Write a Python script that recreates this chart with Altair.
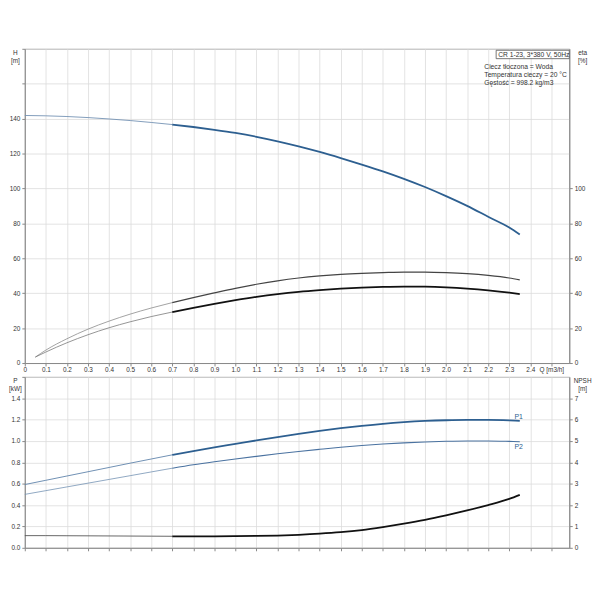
import altair as alt
import pandas as pd

# ---------------- data ----------------
Q_H = [0.0, 0.1, 0.2, 0.3, 0.4, 0.5, 0.6, 0.7, 0.8, 0.9, 1.0, 1.1, 1.2,
       1.3, 1.4, 1.5, 1.6, 1.7, 1.8, 1.9, 2.0, 2.1, 2.2, 2.3, 2.35]
H = [141.8, 141.6, 141.2, 140.6, 139.8, 138.9, 137.8, 136.6, 135.2, 133.6,
     131.8, 129.6, 127.0, 124.1, 120.9, 117.4, 113.7, 109.8, 105.5, 100.8,
     95.6, 90.0, 83.8, 77.6, 73.6]

Q_ETA = [0.05, 0.1, 0.2, 0.3, 0.4, 0.5, 0.6, 0.7, 0.8, 0.9, 1.0, 1.1, 1.2,
         1.3, 1.4, 1.5, 1.6, 1.7, 1.8, 1.9, 2.0, 2.1, 2.2, 2.3, 2.35]
ETA_PUMP = [3.4, 7.4, 13.9, 19.4, 24.0, 28.0, 31.5, 34.6, 37.5, 40.2, 42.8,
            45.1, 47.1, 48.7, 49.9, 50.8, 51.4, 51.8, 52.1, 52.1, 51.8,
            51.2, 50.2, 48.7, 47.6]
ETA_TOTAL = [3.4, 6.3, 11.6, 16.2, 20.2, 23.6, 26.6, 29.2, 31.6, 33.9, 36.0,
             37.9, 39.5, 40.8, 41.8, 42.6, 43.2, 43.6, 43.8, 43.7, 43.3,
             42.6, 41.6, 40.3, 39.5]

Q_P = Q_H
P1 = [0.592, 0.632, 0.672, 0.712, 0.752, 0.792, 0.831, 0.870, 0.906, 0.940,
      0.972, 1.005, 1.037, 1.067, 1.095, 1.120, 1.142, 1.161, 1.176, 1.187,
      1.194, 1.197, 1.197, 1.193, 1.189]
P2 = [0.500, 0.535, 0.570, 0.605, 0.640, 0.675, 0.710, 0.745, 0.777, 0.805,
      0.831, 0.856, 0.880, 0.902, 0.922, 0.941, 0.957, 0.971, 0.982, 0.991,
      0.997, 1.000, 1.000, 0.996, 0.993]
NPSH = [0.57, 0.57, 0.565, 0.56, 0.555, 0.55, 0.545, 0.54, 0.54, 0.54, 0.545,
        0.555, 0.575, 0.61, 0.66, 0.73, 0.83, 0.97, 1.13, 1.31, 1.52, 1.75,
        2.00, 2.29, 2.48]

P_LABELS = ["P1", "P2"]
P_LABEL_Q = [2.345, 2.345]
P_LABEL_P = [1.225, 0.94]

X_TICKS = [0.0, 0.1, 0.2, 0.3, 0.4, 0.5, 0.6, 0.7, 0.8, 0.9, 1.0, 1.1, 1.2,
           1.3, 1.4, 1.5, 1.6, 1.7, 1.8, 1.9, 2.0, 2.1, 2.2, 2.3, 2.4, 2.5]
H_TICKS = [0, 20, 40, 60, 80, 100, 120, 140, 160, 180]
ETA_TICKS = [0, 20, 40, 60, 80, 100]
P_TICKS = [0.0, 0.2, 0.4, 0.6, 0.8, 1.0, 1.2, 1.4, 1.6]
NPSH_TICKS = [0, 1, 2, 3, 4, 5, 6, 7]

INFO_BOX = "CR 1-23, 3*380 V, 50Hz"
INFO_LINES = ["Ciecz tłoczona = Woda", "Temperatura cieczy = 20 °C",
              "Gęstość = 998.2 kg/m3"]

# ---------------- styling ----------------
W = 551
H_TOP = 318
H_BOT = 173
FONT = "Liberation Sans"
FS = 6.5

STYLE = {
    "H_thin": ("#7392b3", 0.9), "H_thick": ("#2d5f90", 1.8),
    "etaP_thin": ("#8a8a8a", 0.8), "etaP_thick": ("#444444", 1.2),
    "etaT_thin": ("#7a7a7a", 0.8), "etaT_thick": ("#111111", 1.8),
    "P1_thin": ("#5f83aa", 0.9), "P1_thick": ("#2d5f90", 1.8),
    "P2_thin": ("#7392b3", 0.8), "P2_thick": ("#4a72a0", 1.1),
    "NPSH_thin": ("#555555", 0.9), "NPSH_thick": ("#111111", 1.8),
}


def segments(q, v, name, split=0.7):
    rows = []
    for qi, vi in zip(q, v):
        for part, keep in (("_thin", qi <= split), ("_thick", qi >= split)):
            if keep:
                k = name + part
                rows.append({"Q": qi, "v": vi, "key": k,
                             "col": STYLE[k][0], "sw": STYLE[k][1]})
    return rows


X_SCALE = alt.Scale(domain=[0, 2.585], nice=False, zero=False)
X_ENC_TOP = alt.X("Q:Q", scale=X_SCALE, axis=alt.Axis(
    values=X_TICKS, title=None, grid=True, tickSize=3, labelPadding=1,
    labelOverlap=False, labelFlush=False,
    labelExpr="datum.value == 0 ? '0' : (datum.value > 2.45 ? 'Q [m3/h]' : format(datum.value, '.1f'))"))
X_ENC_BOT = alt.X("Q:Q", scale=X_SCALE, axis=alt.Axis(
    values=X_TICKS, title=None, grid=True, labels=False, tickSize=3))


def line_layer(df, x_enc, y_enc):
    return alt.Chart(df).mark_line(interpolate="monotone").encode(
        x=x_enc,
        y=y_enc,
        color=alt.Color("col:N", scale=None),
        strokeWidth=alt.StrokeWidth("sw:Q", scale=None),
        detail="key:N",
    )


def y_axis(orient, values, title, tx, **kw):
    return alt.Axis(orient=orient, values=values, tickSize=3, labelPadding=2,
                    title=title, titleAngle=0, titleAlign="center",
                    titleBaseline="top", titleX=tx, titleY=1, titleLineHeight=8, **kw)


# ---------------- top panel ----------------
df_h = pd.DataFrame(segments(Q_H, H, "H"))
df_eta = pd.DataFrame(segments(Q_ETA, ETA_PUMP, "etaP") + segments(Q_ETA, ETA_TOTAL, "etaT"))

y_h = alt.Y("v:Q", scale=alt.Scale(domain=[0, 180], nice=False),
            axis=y_axis("left", H_TICKS, ["H", "[m]"], -10, grid=True,
                        labelExpr="datum.value > 140 ? '' : datum.label"))
y_eta = alt.Y("v:Q", scale=alt.Scale(domain=[0, 180], nice=False),
              axis=y_axis("right", ETA_TICKS, ["eta", "[%]"], 13, grid=False))

h_layer = line_layer(df_h, X_ENC_TOP, y_h)
eta_layer = line_layer(df_eta, X_ENC_TOP, y_eta)

one = pd.DataFrame({"a": [0]})
box = alt.Chart(one).mark_rect(fill="white", stroke="#555", strokeWidth=0.8).encode(
    x=alt.value(W - 74), x2=alt.value(W), y=alt.value(1.5), y2=alt.value(10))
box_text = alt.Chart(one).mark_text(text=INFO_BOX, align="left", baseline="middle",
                                    font=FONT, fontSize=6.8, color="#333").encode(
    x=alt.value(W - 72), y=alt.value(6))
info_layers = [
    alt.Chart(one).mark_text(text=line, align="left", baseline="middle",
                             font=FONT, fontSize=6.8, color="#333").encode(
        x=alt.value(W - 86), y=alt.value(18.5 + 8 * i))
    for i, line in enumerate(INFO_LINES)
]

top = alt.layer(h_layer, eta_layer).resolve_scale(y="independent")
top = alt.layer(top, box, box_text, *info_layers).properties(width=W, height=H_TOP)

# ---------------- bottom panel ----------------
df_p = pd.DataFrame(segments(Q_P, P1, "P1") + segments(Q_P, P2, "P2"))
df_n = pd.DataFrame(segments(Q_P, NPSH, "NPSH"))
df_lab = pd.DataFrame({"Q": P_LABEL_Q, "v": P_LABEL_P, "t": P_LABELS})

y_p = alt.Y("v:Q", scale=alt.Scale(domain=[0, 1.6], nice=False),
            axis=y_axis("left", P_TICKS, ["P", "[kW]"], -10, grid=True, format=".1f",
                        labelExpr="datum.value > 1.45 ? '' : datum.label"))
y_n = alt.Y("v:Q", scale=alt.Scale(domain=[0, 8], nice=False),
            axis=y_axis("right", NPSH_TICKS, ["NPSH", "[m]"], 13, grid=False))

p_lines = line_layer(df_p, X_ENC_BOT, y_p)
p_text = alt.Chart(df_lab).mark_text(font=FONT, fontSize=7, color="#2d5f90",
                                     align="center", baseline="middle").encode(
    x=X_ENC_BOT, y=y_p, text="t:N")
n_line = line_layer(df_n, X_ENC_BOT, y_n)

bottom = alt.layer(alt.layer(p_lines, p_text), n_line).resolve_scale(y="independent")
bottom = bottom.properties(width=W, height=H_BOT)

chart = alt.vconcat(top, bottom, spacing=2).properties(
    padding={"left": 0, "top": 37, "right": 0, "bottom": 0}
).configure(font=FONT, background="white").configure_axis(
    labelFont=FONT, labelFontSize=FS, labelColor="#333", titleFont=FONT,
    titleFontSize=FS, titleFontWeight="normal", titleColor="#333",
    tickColor="#888", domainColor="#888", gridColor="#dcdcdc", gridWidth=0.8
).configure_view(stroke="#999", strokeWidth=1)

chart.save("out.html", embed_options={"renderer": "svg", "actions": False})
